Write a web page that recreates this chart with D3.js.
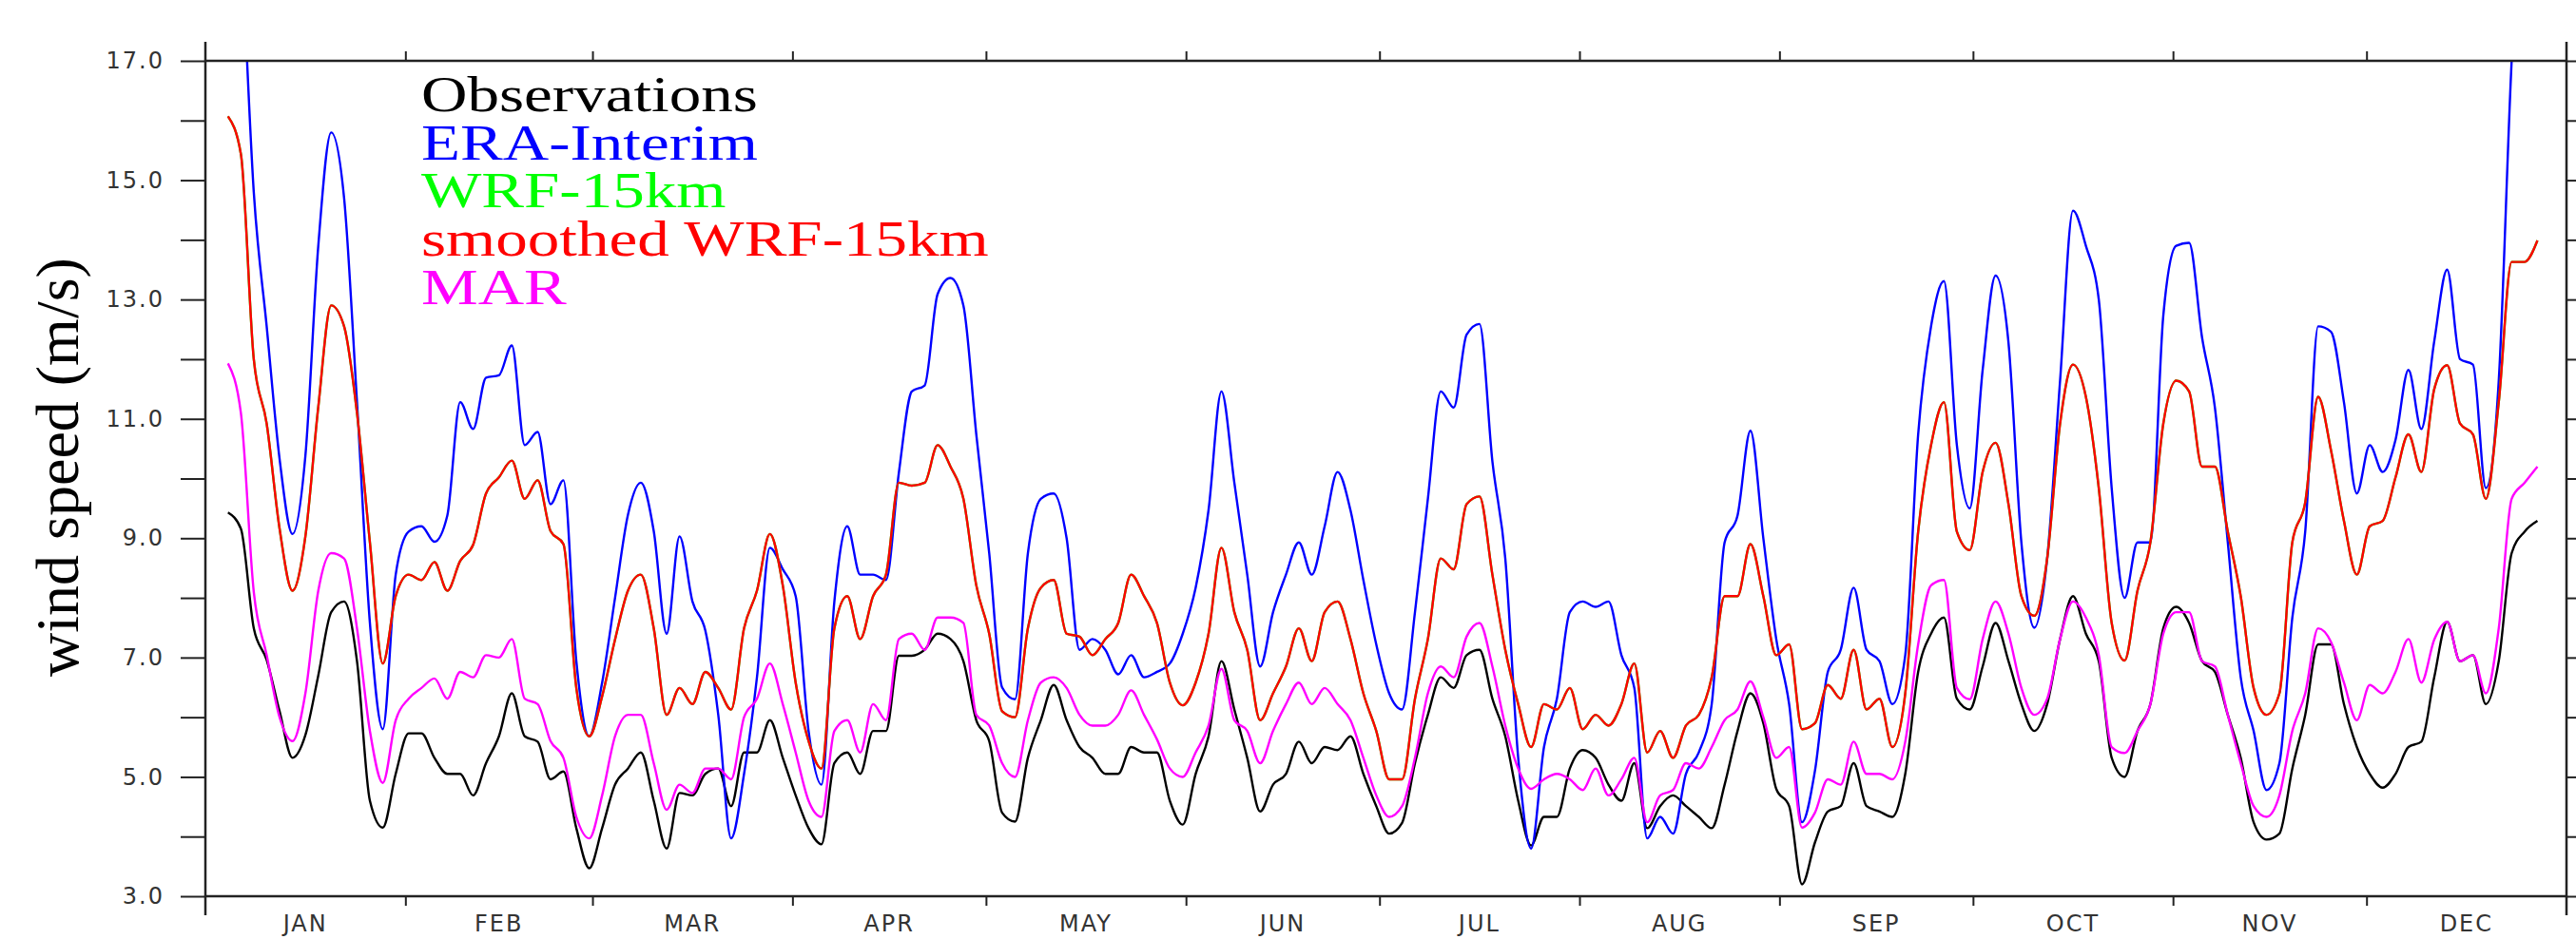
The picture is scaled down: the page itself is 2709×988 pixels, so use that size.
<!DOCTYPE html>
<html>
<head>
<meta charset="utf-8">
<script src="https://cdn.jsdelivr.net/npm/d3@7"></script>
<style>
  html, body { margin: 0; padding: 0; background: #fff; }
  svg { display: block; }
</style>
</head>
<body>
<div id="chart"></div>
<script>
// running means sampled every 2 days, first sample on day 3.5 of a leap year
const firstDay = 3.5;
const dayStep = 2;

const monthNames = ['JAN', 'FEB', 'MAR', 'APR', 'MAY', 'JUN', 'JUL', 'AUG', 'SEP', 'OCT', 'NOV', 'DEC'];
const monthDays = [31, 29, 31, 30, 31, 30, 31, 31, 30, 31, 30, 31];

const yTickValues = [3, 4, 5, 6, 7, 8, 9, 10, 11, 12, 13, 14, 15, 16, 17];

const observations = [
  9.43, 9.16, 7.49, 6.96, 6.1, 5.32, 5.7, 6.7, 7.76, 7.94, 6.94, 4.6, 4.15, 5.05, 5.73, 5.73, 5.32, 5.05, 5.05, 4.69,
  5.23, 5.68, 6.4, 5.68, 5.59, 4.96, 5.09, 4.14, 3.47,
  4.14, 4.87, 5.14, 5.41, 4.6, 3.8, 4.73, 4.69, 5.05, 5.14, 4.51, 5.41, 5.41, 5.95, 5.32, 4.69, 4.14, 3.87, 5.23, 5.41,
  5.05, 5.77, 5.77, 7.03, 7.03, 7.13, 7.4, 7.31, 6.94, 5.95,
  5.6, 4.4, 4.25, 5.32, 5.95, 6.54, 5.95, 5.5, 5.32, 5.05, 5.05, 5.5, 5.41, 5.41, 4.6, 4.2, 5.05, 5.68, 6.94, 6.13,
  5.32, 4.42, 4.87, 5.05, 5.59, 5.23, 5.5, 5.45, 5.68, 5.05, 4.51,
  4.05, 4.23, 5.23, 6.04, 6.67, 6.49, 7.04, 7.13, 6.31, 5.68, 4.6, 3.85, 4.33, 4.33, 5.14, 5.45, 5.32, 4.87, 4.6, 5.23,
  4.14, 4.51, 4.69, 4.51, 4.33, 4.14, 4.87, 5.77, 6.4, 5.9, 4.8,
  4.51, 3.2, 3.9, 4.42, 4.51, 5.23, 4.51, 4.42, 4.33, 5.05, 6.76, 7.4, 7.67, 6.31, 6.13, 6.85, 7.58, 6.94, 6.22, 5.77,
  6.22, 7.31, 8.03, 7.4, 6.94, 5.32, 5.0, 5.77, 6.22, 7.49, 7.85,
  7.58, 6.94, 6.76, 6.04, 5.32, 4.24, 3.95, 4.05, 5.14, 6.04, 7.22, 7.22, 6.22, 5.5, 5.05, 4.82, 5.05, 5.5, 5.59, 6.67,
  7.6, 6.94, 7.04, 6.22, 6.94, 8.75, 9.11, 9.29
];

const eraInterim = [
  23, 19.2, 14.8, 12.55, 10.33, 9.07, 10.38, 13.9, 15.8, 14.7, 11.28, 7.58, 5.8, 8.39, 9.11, 9.2, 8.94, 9.38, 11.28, 10.83,
  11.69, 11.73, 12.23, 10.56, 10.78, 9.57, 9.97, 6.94, 5.68,
  6.58, 8.0, 9.39, 9.93, 9.12, 7.4, 9.03, 7.94, 7.45, 6.04, 3.97, 5.05, 6.67, 8.84, 8.48, 8.03, 5.77, 4.87, 7.94, 9.2,
  8.39, 8.39, 8.3, 10.1, 11.46, 11.56, 13.09, 13.36, 12.9, 10.74,
  8.75, 6.5, 6.3, 8.75, 9.66, 9.75, 9.0, 7.13, 7.31, 7.13, 6.72, 7.04, 6.67, 6.76, 6.9, 7.4, 8.17, 9.47, 11.46, 9.93,
  8.39, 6.85, 7.76, 8.39, 8.93, 8.39, 9.2, 10.11, 9.47, 8.3, 7.22,
  6.4, 6.13, 7.76, 9.66, 11.46, 11.19, 12.41, 12.59, 10.29, 8.66, 5.32, 3.8, 5.5, 6.31, 7.76, 7.94, 7.85, 7.94, 7.04, 6.49,
  3.97, 4.33, 4.05, 5.05, 5.41, 6.22, 8.93, 9.38, 10.8, 9.0, 7.31,
  6.22, 4.24, 5.1, 6.76, 7.13, 8.17, 7.13, 6.94, 6.22, 7.04, 10.74, 12.55, 13.31, 10.56, 9.5, 11.82, 13.4, 12.28, 8.93, 7.5,
  8.66, 11.64, 14.49, 13.9, 13.0, 9.84, 8.0, 8.93, 8.93, 12.73, 13.9,
  13.95, 12.37, 11.19, 8.93, 6.67, 5.77, 4.78, 5.23, 7.67, 9.11, 12.55, 12.46, 11.28, 9.75, 10.56, 10.11, 10.65, 11.82, 10.83, 12.3,
  13.5, 12.0, 11.91, 9.84, 11.64, 17.0, 20.5, 24
];

const smoothedWrf15km = [
  16.07, 15.44, 12.0, 10.92, 9.16, 8.12, 9.03, 11.2, 12.9, 12.55, 11.1, 8.93, 6.9, 8.03, 8.39, 8.3, 8.6, 8.12, 8.62, 8.89,
  9.75, 10.02, 10.3, 9.66, 9.97, 9.12, 8.9, 6.49, 5.68,
  6.35, 7.3, 8.12, 8.39, 7.49, 6.04, 6.49, 6.22, 6.76, 6.49, 6.13, 7.49, 8.12, 9.07, 8.21, 6.58, 5.6, 5.14, 7.49, 8.03,
  7.31, 8.03, 8.39, 9.93, 9.88, 9.93, 10.56, 10.2, 9.66, 8.21,
  7.4, 6.1, 6.0, 7.49, 8.17, 8.3, 7.4, 7.35, 7.04, 7.31, 7.58, 8.39, 8.03, 7.58, 6.58, 6.2, 6.58, 7.4, 8.84, 7.76,
  7.13, 5.95, 6.4, 6.85, 7.49, 6.94, 7.76, 7.94, 7.31, 6.4, 5.77,
  4.96, 4.96, 6.31, 7.31, 8.66, 8.48, 9.57, 9.7, 8.39, 7.13, 6.22, 5.5, 6.22, 6.13, 6.49, 5.8, 6.04, 5.86, 6.22, 6.9,
  5.41, 5.77, 5.32, 5.86, 6.04, 6.67, 8.03, 8.03, 8.9, 8.03, 7.04,
  7.22, 5.8, 5.9, 6.54, 6.31, 7.13, 6.13, 6.31, 5.5, 6.4, 9.11, 10.56, 11.28, 9.11, 8.8, 10.11, 10.6, 9.57, 8.03, 7.7,
  8.66, 10.92, 11.91, 11.37, 9.84, 7.58, 6.95, 8.12, 8.93, 10.92, 11.64,
  11.46, 10.2, 10.2, 9.11, 8.03, 6.49, 6.04, 6.4, 8.93, 9.6, 11.37, 10.47, 9.29, 8.39, 9.2, 9.29, 10.02, 10.74, 10.11, 11.5,
  11.9, 10.92, 10.74, 9.66, 11.28, 13.63, 13.63, 13.99
];

// the raw WRF-15km curve lies under its smoothed version everywhere
const wrf15km = smoothedWrf15km;

const mar = [
  11.93, 11.1, 8.1, 7.04, 6.0, 5.6, 6.4, 8.12, 8.75, 8.66, 7.49, 5.77, 4.9, 5.95, 6.31, 6.49, 6.65, 6.31, 6.76, 6.67,
  7.04, 7.0, 7.31, 6.31, 6.22, 5.6, 5.32, 4.33, 3.97,
  4.69, 5.68, 6.04, 6.04, 5.23, 4.45, 4.87, 4.73, 5.14, 5.14, 4.96, 6.0, 6.31, 6.9, 6.22, 5.41, 4.6, 4.33, 5.77, 5.95,
  5.41, 6.22, 5.95, 7.31, 7.4, 7.13, 7.67, 7.67, 7.58, 6.04,
  5.86, 5.23, 5.0, 5.95, 6.58, 6.67, 6.49, 6.04, 5.86, 5.86, 6.04, 6.45, 6.04, 5.63, 5.14, 5.0, 5.41, 5.86, 6.81, 5.95,
  5.77, 5.23, 5.77, 6.22, 6.58, 6.22, 6.49, 6.22, 5.95, 5.32, 4.69,
  4.33, 4.51, 5.32, 6.4, 6.85, 6.67, 7.35, 7.58, 6.85, 5.86, 5.14, 4.8, 4.96, 5.05, 4.96, 4.78, 5.14, 4.69, 4.96, 5.32,
  4.24, 4.69, 4.78, 5.23, 5.14, 5.5, 5.95, 6.13, 6.6, 6.0, 5.32,
  5.5, 4.15, 4.4, 4.96, 4.87, 5.59, 5.05, 5.05, 4.96, 5.59, 7.22, 8.21, 8.3, 6.49, 6.3, 7.31, 7.94, 7.4, 6.49, 6.04,
  6.31, 7.31, 7.94, 7.67, 7.04, 5.5, 5.4, 5.77, 6.22, 7.4, 7.76,
  7.76, 6.94, 6.85, 6.04, 5.23, 4.51, 4.33, 4.69, 5.77, 6.4, 7.49, 7.26, 6.58, 5.95, 6.54, 6.4, 6.76, 7.31, 6.58, 7.3,
  7.6, 6.94, 7.04, 6.4, 7.49, 9.66, 9.93, 10.2
];

const seriesNames = ['Observations', 'ERA-Interim', 'WRF-15km', 'smoothed WRF-15km', 'MAR'];
const seriesColors = ['#000000', '#0000ff', '#00ff00', '#ff0000', '#ff00ff'];
const seriesValues = [observations, eraInterim, wrf15km, smoothedWrf15km, mar];

// 画布
const width = 2709;
const height = 988;
const margin = { top: 64, right: 10, bottom: 45, left: 216 };
const plotRight = width - margin.right;
const plotBottom = height - margin.bottom;

const svg = d3.select('#chart')
  .append('svg')
  .attr('width', width)
  .attr('height', height);

const monthStarts = [0].concat(Array.from(d3.cumsum(monthDays)));
const yearLength = monthStarts[monthStarts.length - 1];

const x = d3.scaleLinear().domain([0, yearLength]).range([margin.left, plotRight]);
const y = d3.scaleLinear().domain([3, 17]).range([plotBottom, margin.top]);

const tickFont = '"DejaVu Sans", "Liberation Sans", sans-serif';
const axisColor = '#222';
const labelColor = '#333';

// 裁剪区域
svg.append('clipPath')
  .attr('id', 'plot-clip')
  .append('rect')
  .attr('x', margin.left)
  .attr('y', margin.top)
  .attr('width', plotRight - margin.left)
  .attr('height', plotBottom - margin.top);

// 曲线
const line = d3.line()
  .x((d, i) => x(firstDay + i * dayStep))
  .y(d => y(d))
  .curve(d3.curveMonotoneX);

const lineGroup = svg.append('g').attr('clip-path', 'url(#plot-clip)');
seriesValues.forEach((values, k) => {
  lineGroup.append('path')
    .datum(values)
    .attr('fill', 'none')
    .attr('stroke', seriesColors[k])
    .attr('stroke-width', 2.4)
    .attr('stroke-linejoin', 'round')
    .attr('d', line);
});

// 坐标轴
function styleAxis(g) {
  g.select('.domain').remove();
  g.selectAll('.tick line').attr('stroke', axisColor).attr('stroke-width', 2);
  g.selectAll('.tick text')
    .attr('fill', labelColor)
    .style('font-family', tickFont)
    .style('font-size', '24px')
    .style('letter-spacing', '2px');
}

const innerMonthStarts = monthStarts.slice(1, -1);

svg.append('g')
  .attr('transform', `translate(0,${plotBottom})`)
  .call(d3.axisBottom(x).tickValues(innerMonthStarts).tickSize(10).tickFormat(''))
  .call(styleAxis);

svg.append('g')
  .attr('transform', `translate(0,${margin.top})`)
  .call(d3.axisTop(x).tickValues(innerMonthStarts).tickSize(10).tickFormat(''))
  .call(styleAxis);

svg.append('g')
  .attr('transform', `translate(${margin.left},0)`)
  .call(d3.axisLeft(y).tickValues(yTickValues).tickSize(26).tickPadding(17)
    .tickFormat(d => d % 2 === 1 ? d.toFixed(1) : ''))
  .call(styleAxis);

svg.append('g')
  .attr('transform', `translate(${plotRight},0)`)
  .call(d3.axisRight(y).tickValues(yTickValues).tickSize(26).tickFormat(''))
  .call(styleAxis);

// 月份标签
svg.append('g')
  .selectAll('text')
  .data(monthNames)
  .join('text')
  .attr('x', (d, i) => x(monthStarts[i] + monthDays[i] / 2))
  .attr('y', height - 8)
  .attr('text-anchor', 'middle')
  .attr('fill', labelColor)
  .style('font-family', tickFont)
  .style('font-size', '24px')
  .style('letter-spacing', '2px')
  .text(d => d);

// 边框
const frame = svg.append('g')
  .attr('stroke', axisColor)
  .attr('stroke-width', 2.5)
  .attr('fill', 'none');
frame.append('line').attr('x1', margin.left).attr('x2', plotRight).attr('y1', margin.top).attr('y2', margin.top);
frame.append('line').attr('x1', margin.left).attr('x2', plotRight).attr('y1', plotBottom).attr('y2', plotBottom);
frame.append('line').attr('x1', margin.left).attr('x2', margin.left).attr('y1', margin.top - 20).attr('y2', plotBottom + 20);
frame.append('line').attr('x1', plotRight).attr('x2', plotRight).attr('y1', margin.top - 20).attr('y2', plotBottom + 20);

// 纵轴标题
svg.append('text')
  .attr('transform', `translate(82,${(margin.top + plotBottom) / 2 - 12}) rotate(-90)`)
  .attr('text-anchor', 'middle')
  .attr('fill', '#000')
  .style('font-family', '"Liberation Serif", "Times New Roman", serif')
  .style('font-size', '64px')
  .text('wind speed (m/s)');

// 图例
const legend = svg.append('g');
seriesNames.forEach((name, k) => {
  legend.append('text')
    .attr('transform', `translate(443,${117 + k * 50.7}) scale(1.29,1)`)
    .attr('fill', seriesColors[k])
    .style('font-family', '"Liberation Serif", "Times New Roman", serif')
    .style('font-size', '52px')
    .text(name);
});
</script>
</body>
</html>
